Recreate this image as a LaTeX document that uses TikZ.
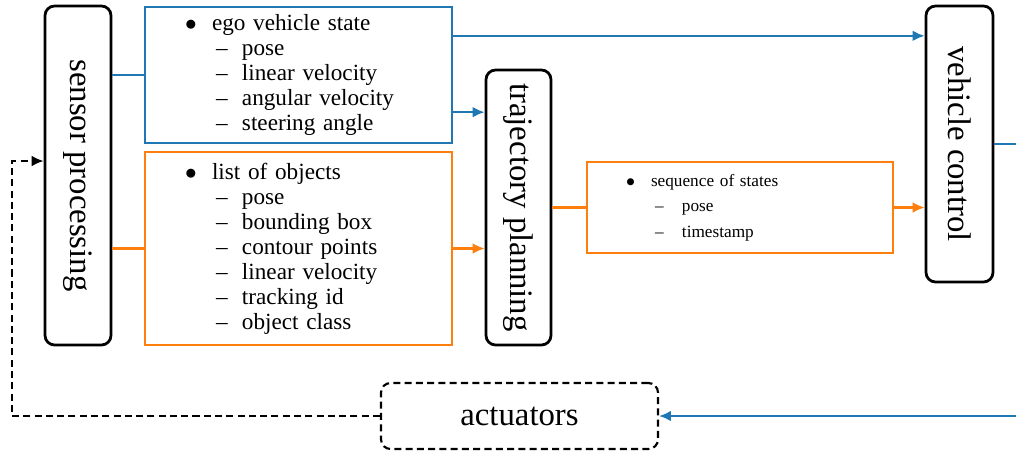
\documentclass[tikz,border=0pt]{standalone}
\usepackage{fontspec}
\setmainfont{Liberation Serif}
\usetikzlibrary{arrows.meta,calc}

\definecolor{mblue}{HTML}{1F77B4}
\definecolor{morange}{HTML}{FF7F0E}
\newcommand\pxu{0.47pt}

% list entries: first level with a bullet, second level with a dash
\newcommand\bitem[1]{\makebox[27\dimexpr\pxu\relax][l]{$\bullet$}#1}
\newcommand\ditem[1]{\hspace*{31\dimexpr\pxu\relax}\makebox[26\dimexpr\pxu\relax][l]{--}#1}

\tikzset{
  block/.style={draw=black, line width=1.3pt, rounded corners=4.5pt,
    rotate=-90, font=\fontsize{15.4}{18}\selectfont, inner sep=0pt},
  infobox/.style={draw=#1, line width=1.1pt, align=left, inner ysep=0pt,
    inner xsep=40*\pxu, font=\fontsize{10.9}{11.75}\selectfont},
  tip/.style={-{Latex[length=5.6pt,width=5pt]}},
  flow/.style={line width=0.95pt, tip},
  link/.style={line width=0.95pt},
  feedback/.style={line width=0.9pt, dash pattern=on 3.3pt off 2pt}
}

\begin{document}
\begin{tikzpicture}[x=\pxu, y=-\pxu]
\useasboundingbox (0,0) rectangle (1016,452);

% processing stages (rotated, so width and height swap)
\node[block, minimum width=339*\pxu, minimum height=66*\pxu] (sp) at (78,175.5) {sensor processing};
\node[block, minimum width=275*\pxu, minimum height=65*\pxu] (tp) at (518.5,207.5) {trajectory planning};
\node[block, minimum width=276*\pxu, minimum height=67*\pxu] (vc) at (959.5,144) {vehicle control};
\node[draw=black, line width=1pt, dash pattern=on 3.3pt off 2pt, rounded corners=4.5pt,
      minimum width=277*\pxu, minimum height=66*\pxu, inner sep=0pt,
      font=\fontsize{15.4}{18}\selectfont] (act) at (519.5,416) {actuators};

% data exchanged between the stages
\node[infobox=mblue, text width=227*\pxu, minimum height=136*\pxu] (ego) at (298.5,75) {%
  \bitem{ego vehicle state}\\
  \ditem{pose}\\
  \ditem{linear velocity}\\
  \ditem{angular velocity}\\
  \ditem{steering angle}};
\node[infobox=morange, text width=227*\pxu, minimum height=193*\pxu] (obj) at (298.5,248.5) {%
  \bitem{list of objects}\\
  \ditem{pose}\\
  \ditem{bounding box}\\
  \ditem{contour points}\\
  \ditem{linear velocity}\\
  \ditem{tracking id}\\
  \ditem{object class}};
\node[infobox=morange, text width=228*\pxu, minimum height=91*\pxu, inner xsep=39*\pxu,
      font=\fontsize{8.1}{12}\selectfont] (seq) at (740,207.5) {%
  \makebox[25\dimexpr\pxu\relax][l]{$\bullet$}sequence of states\\
  \hspace*{29\dimexpr\pxu\relax}\makebox[27\dimexpr\pxu\relax][l]{--}pose\\
  \hspace*{29\dimexpr\pxu\relax}\makebox[27\dimexpr\pxu\relax][l]{--}timestamp};

% free ends leaving the drawing on the right
\coordinate (out) at (1016,144);
\coordinate (in) at (1016,416);
\coordinate (fb) at (12,161);

% connectors
\draw[link, mblue] (ego.west -| sp.north) -- (ego.west);
\draw[link, morange] (obj.west -| sp.north) -- (obj.west);
\draw[flow, mblue] ([yshift=-30*\pxu]ego.north east) coordinate (e1) -- (e1 -| vc.south);
\draw[flow, mblue] ([yshift=32*\pxu]ego.south east) coordinate (e2) -- (e2 -| tp.south);
\draw[flow, morange] (obj.east) -- (obj.east -| tp.south);
\draw[link, morange] (seq.west -| tp.north) -- (seq.west);
\draw[flow, morange] (seq.east) -- (seq.east -| vc.south);
\draw[link, mblue] (vc.north) -- (out);
\draw[flow, mblue] (in) -- (act.east);
\draw[feedback, tip] (act.west) -| (fb) -- (fb -| sp.south);
\end{tikzpicture}
\end{document}
